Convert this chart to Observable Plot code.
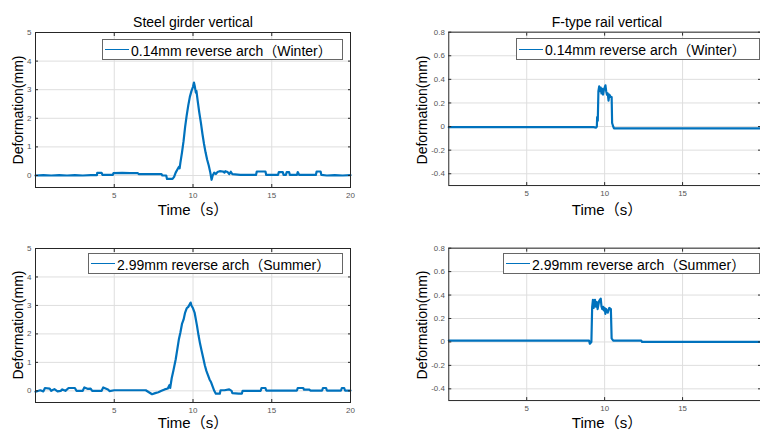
<!DOCTYPE html>
<html><head><meta charset="utf-8">
<script src="https://cdn.jsdelivr.net/npm/d3@7"></script>
<script src="https://cdn.jsdelivr.net/npm/@observablehq/plot@0.6"></script>
<style>
body{margin:0;background:#fff;overflow:hidden}
#wrap{position:relative;width:760px;height:432px;overflow:hidden;background:#fff;font-family:"Liberation Sans","Noto Sans CJK SC",sans-serif;color:#000}
.panel{position:absolute;top:0;left:0}
.title{position:absolute;font-size:14px;transform:translate(-50%,-50%);white-space:nowrap}
.xlab{position:absolute;font-size:15px;line-height:16px;transform:translate(-50%,-50%);white-space:nowrap}
.ylab{position:absolute;font-size:14px;transform:translate(-50%,-50%) rotate(-90deg);white-space:nowrap}
.legend{position:absolute;border:1px solid #666;background:#fff;box-sizing:border-box;font-size:14px;display:flex;align-items:center;white-space:nowrap;padding-left:2px}
.legend .sw{display:inline-block;width:24px;height:0;border-top:1px solid #0072BD;margin-right:2px}
</style></head>
<body><div id="wrap"></div>
<script>
// ---- data ----
const titles = ["Steel girder vertical", "F-type rail vertical"];
const xLabel = "Time（s）";
const yLabel = "Deformation(mm)";
const legendLabels = ["0.14mm reverse arch（Winter）", "0.14mm reverse arch（Winter）", "2.99mm reverse arch（Summer）", "2.99mm reverse arch（Summer）"];
const girderXTicks = [5, 10, 15, 20];
const railXTicks = [5, 10, 15];
const girderTicks = [0, 1, 2, 3, 4, 5];
const railTicks = [-0.4, -0.2, 0, 0.2, 0.4, 0.6, 0.8];

const girderWinterT = [0,0.5,1,1.5,2,2.5,3,3.5,3.9,3.92,4.2,4.25,4.9,4.95,5.5,6,6.5,6.55,7,7.5,8,8.05,8.3,8.35,8.7,8.8,8.9,9.0,9.1,9.15,9.2,9.3,9.4,9.5,9.6,9.7,9.8,9.9,10.0,10.06,10.12,10.18,10.22,10.3,10.4,10.5,10.6,10.7,10.8,10.9,11.0,11.1,11.18,11.25,11.35,11.45,11.55,11.7,11.9,12.0,12.05,12.2,12.3,12.4,12.5,13,13.5,14.0,14.05,14.6,14.65,15.0,15.4,15.45,15.7,15.75,15.9,15.95,16.1,16.15,16.6,16.65,16.75,17.5,17.8,17.85,18.1,18.15,18.5,19,19.5,20];
const girderWinterV = [0,0.01,0,0.01,0,0.01,0,0.01,0.01,0.09,0.09,0.02,0.02,0.08,0.09,0.08,0.08,0.05,0.05,0.05,0.05,0.0,0.0,-0.12,-0.12,-0.05,0.1,0.2,0.3,0.25,0.45,0.8,1.2,1.7,2.1,2.45,2.75,2.95,3.1,3.25,3.1,2.9,2.95,2.6,2.2,1.85,1.45,1.1,0.8,0.55,0.35,0.1,-0.15,0.0,0.1,0.05,0.12,0.15,0.14,0.1,0.15,0.12,0.05,0.13,0.05,0.02,0.02,0.02,0.14,0.14,0.02,0.02,0.02,0.12,0.12,0.02,0.02,0.12,0.12,0.02,0.02,0.12,0.02,0.02,0.02,0.14,0.14,0.02,0.0,0.01,0.0,0.01];

const girderSummerT = [0,0.3,0.5,0.6,0.9,1.0,1.2,1.4,1.6,1.7,1.9,2.1,2.5,2.6,3.0,3.1,3.3,3.5,3.6,4.2,4.3,4.6,4.7,5,5.5,6,6.5,7.0,7.2,7.4,7.6,7.8,8.0,8.2,8.4,8.5,8.55,8.65,8.75,8.9,9.0,9.1,9.2,9.3,9.4,9.5,9.6,9.7,9.8,9.85,9.9,10.0,10.1,10.15,10.25,10.35,10.45,10.55,10.65,10.75,10.85,10.95,11.05,11.15,11.25,11.35,11.45,11.7,11.75,12.0,12.3,12.45,12.5,12.9,13.1,13.15,13.5,14.0,14.3,14.35,14.6,14.65,15,15.5,16,16.6,16.65,17.0,17.05,17.4,17.45,18.2,18.25,18.45,18.5,19.4,19.45,19.6,19.65,20];
const girderSummerV = [-0.03,0.02,-0.02,0.1,0.08,0.0,0.06,-0.02,0.0,0.05,0.0,0.1,0.1,0.0,0.0,0.12,0.07,0.08,0.0,0.0,0.12,0.05,-0.01,0.02,0.02,0.02,0.02,0.02,-0.05,-0.12,-0.08,-0.05,0.0,0.05,0.08,0.2,0.1,0.45,0.7,1.1,1.45,1.8,2.05,2.35,2.5,2.75,2.9,2.95,3.05,3.1,3.0,2.9,2.75,2.6,2.3,1.95,1.65,1.4,1.15,0.9,0.7,0.55,0.4,0.3,0.15,0.0,-0.1,-0.1,0.02,0.02,0.05,0.0,-0.08,-0.1,-0.1,0.0,0.0,0.0,0.0,0.1,0.1,0.01,0.01,0.01,0.01,0.01,0.1,0.1,0.04,0.04,0.01,0.01,0.1,0.1,0.01,0.01,0.1,0.1,0.01,0.01];

const railWinterT = [0,2,4,6,8,9.3,9.45,9.5,9.52,9.56,9.6,9.65,9.7,9.75,9.8,9.85,9.9,9.95,10.0,10.05,10.1,10.15,10.2,10.25,10.3,10.35,10.4,10.45,10.48,10.55,10.6,12,14,16,18,20];
const railWinterV = [-0.005,-0.005,-0.005,-0.005,-0.005,-0.005,-0.01,0.0,0.08,0.05,0.3,0.34,0.3,0.33,0.28,0.32,0.27,0.31,0.33,0.35,0.3,0.27,0.28,0.22,0.27,0.26,0.25,0.25,0.03,0.0,-0.015,-0.015,-0.015,-0.015,-0.015,-0.015];

const railSummerT = [0,2,4,6,8,9.0,9.05,9.15,9.2,9.25,9.3,9.38,9.45,9.5,9.55,9.65,9.75,9.8,9.85,9.9,9.95,10.0,10.05,10.1,10.2,10.3,10.4,10.45,10.55,11,12.35,12.4,14,16,18,20];
const railSummerV = [0.012,0.012,0.012,0.012,0.012,0.012,-0.015,0.0,0.3,0.36,0.29,0.36,0.3,0.34,0.28,0.35,0.37,0.3,0.28,0.3,0.27,0.29,0.24,0.28,0.25,0.29,0.28,0.03,0.012,0.012,0.012,0.0,0.0,0.0,0.0,0.0];

// ---- drawing ----
const wrap = document.getElementById("wrap");
const font = '"Liberation Sans","Noto Sans CJK SC",sans-serif';

function panel(cfg) {
  const data = cfg.t.map((t, i) => ({t, v: cfg.v[i]}));
  const tickFmt = cfg.fmt || (d => String(d));
  const svg = Plot.plot({
    width: cfg.width, height: 216,
    marginLeft: cfg.ml, marginRight: cfg.mr, marginTop: cfg.mt, marginBottom: cfg.mb,
    x: {domain: [0, 20]},
    y: {domain: cfg.yDomain},
    style: {fontFamily: font, fontSize: "8px", color: "#555", background: "transparent", overflow: "visible"},
    marks: [
      Plot.gridX(cfg.xTicks, {stroke: "#dedede", strokeOpacity: 1}),
      Plot.gridY(cfg.yTicks, {stroke: "#dedede", strokeOpacity: 1}),
      Plot.line(data, {x: "t", y: "v", stroke: "#0072BD", strokeWidth: 2.2}),
      Plot.axisX(cfg.xTicks, {anchor: "bottom", tickSize: -3, tickPadding: 8, stroke: "#262626", label: null}),
      Plot.axisX(cfg.xTicks, {anchor: "top", tickSize: -3, fill: "none", stroke: "#262626", label: null}),
      Plot.axisY(cfg.yTicks, {anchor: "left", tickSize: -3, tickPadding: 7, stroke: "#262626", label: null, tickFormat: tickFmt}),
      Plot.axisY(cfg.yTicks, {anchor: "right", tickSize: -3, fill: "none", stroke: "#262626", label: null}),
      Plot.frame({stroke: "#262626"})
    ]
  });
  const holder = document.createElement("div");
  holder.className = "panel";
  holder.style.left = cfg.left + "px";
  holder.style.top = cfg.top + "px";
  holder.appendChild(svg);
  wrap.appendChild(holder);
}

function label(cls, text, x, y) {
  const d = document.createElement("div");
  d.className = cls; d.textContent = text;
  d.style.left = x + "px"; d.style.top = y + "px";
  wrap.appendChild(d);
}
function legend(text, x, y, w, h) {
  const d = document.createElement("div");
  d.className = "legend";
  d.style.left = x + "px"; d.style.top = y + "px";
  d.style.width = w + "px"; d.style.height = h + "px";
  const sw = document.createElement("span"); sw.className = "sw";
  d.appendChild(sw);
  d.appendChild(document.createTextNode(text));
  wrap.appendChild(d);
}

const railFmt = d => d === 0 ? "0" : d3.format(".1f")(d).replace("−", "-");

panel({t: girderWinterT, v: girderWinterV, yDomain: [-0.42, 5], yTicks: girderTicks, xTicks: girderXTicks, left: 0, top: 0, width: 380, ml: 35, mr: 30, mt: 32, mb: 29});
panel({t: railWinterT, v: railWinterV, yDomain: [-0.5, 0.8], yTicks: railTicks, xTicks: railXTicks, fmt: railFmt, left: 380, top: 0, width: 384, ml: 69, mr: 0, mt: 32, mb: 29});
panel({t: girderSummerT, v: girderSummerV, yDomain: [-0.41, 5], yTicks: girderTicks, xTicks: girderXTicks, left: 0, top: 216, width: 380, ml: 35, mr: 30, mt: 32, mb: 30});
panel({t: railSummerT, v: railSummerV, yDomain: [-0.5, 0.8], yTicks: railTicks, xTicks: railXTicks, fmt: railFmt, left: 380, top: 216, width: 384, ml: 69, mr: 0, mt: 32, mb: 30});

label("title", titles[0], 193, 22);
label("title", titles[1], 607, 22);
label("xlab", xLabel, 193, 210);
label("xlab", xLabel, 607, 210);
label("xlab", xLabel, 193, 423);
label("xlab", xLabel, 607, 423);
label("ylab", yLabel, 18, 110);
label("ylab", yLabel, 422, 110);
label("ylab", yLabel, 18, 325);
label("ylab", yLabel, 422, 325);

legend(legendLabels[0], 102, 39, 241, 21);
legend(legendLabels[1], 516, 38, 244, 22);
legend(legendLabels[2], 88, 253, 255, 21);
legend(legendLabels[3], 503, 253, 257, 21);
</script>
</body></html>
